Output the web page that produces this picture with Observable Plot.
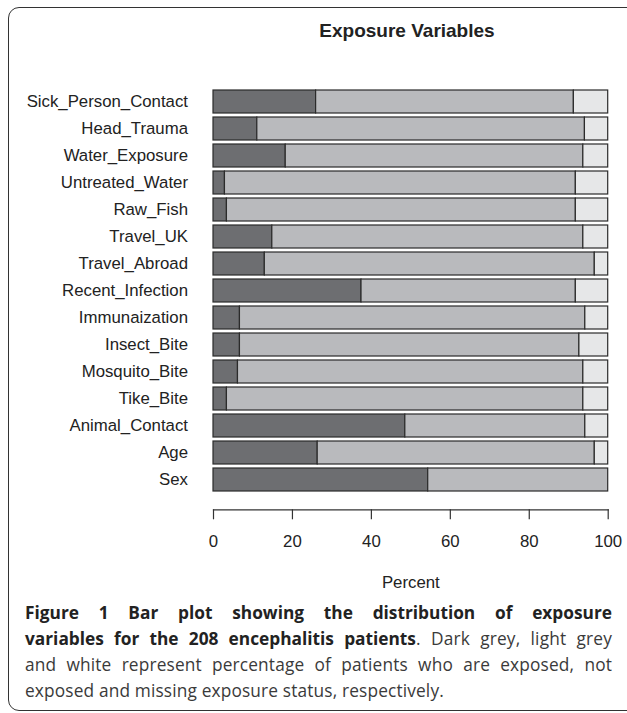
<!DOCTYPE html>
<html>
<head>
<meta charset="utf-8">
<script src="https://cdn.jsdelivr.net/npm/d3@7"></script>
<script src="https://cdn.jsdelivr.net/npm/@observablehq/plot@0.6"></script>
<style>
  html, body { margin: 0; padding: 0; background: #fff; }
  body { width: 627px; height: 713px; position: relative; overflow: hidden; }
  #frame { position: absolute; left: 8px; top: 7px; width: 650px; height: 704px;
           border: 1.4px solid #333; border-radius: 11px; box-sizing: border-box; }
  #title { position: absolute; left: 205px; width: 404px; top: 20px; text-align: center;
           font-family: "Liberation Sans", Arial, sans-serif; font-weight: bold; font-size: 19px;
           line-height: 22px; color: #222; }
  #chart { position: absolute; left: 0; top: 60px; }
  #caption { position: absolute; left: 25px; width: 587px; top: 600px;
             font-family: "Open Sans", "Noto Sans", sans-serif; font-size: 17.3px; line-height: 26px;
             color: #3a3a3a; letter-spacing: 0.15px; }
  #caption .ln { text-align: justify; text-align-last: justify; white-space: nowrap; }
  #caption .ln.last { text-align: left; text-align-last: left; }
  #caption b { color: #222; font-weight: 700; letter-spacing: 0; }
</style>
</head>
<body>
<div id="frame"></div>
<div id="title">Exposure Variables</div>
<div id="chart"></div>
<div id="caption">
  <div class="ln"><b>Figure 1 Bar plot showing the distribution of exposure</b></div>
  <div class="ln"><b>variables for the 208 encephalitis patients</b>. Dark grey, light grey</div>
  <div class="ln">and white represent percentage of patients who are exposed, not</div>
  <div class="ln last">exposed and missing exposure status, respectively.</div>
</div>
<script>
const variables = ["Sick_Person_Contact","Head_Trauma","Water_Exposure","Untreated_Water","Raw_Fish",
  "Travel_UK","Travel_Abroad","Recent_Infection","Immunaization","Insect_Bite","Mosquito_Bite",
  "Tike_Bite","Animal_Contact","Age","Sex"];
const exposed    = [26.0, 11.1, 18.3, 2.9, 3.4, 14.9, 13.0, 37.5, 6.7, 6.7, 6.2, 3.4, 48.6, 26.4, 54.4];
const notExposed = [65.3, 83.0, 75.4, 88.9, 88.4, 78.8, 83.6, 54.3, 87.5, 86.0, 87.5, 90.3, 45.6, 70.2, 45.6];
const missing    = [8.7, 5.9, 6.3, 8.2, 8.2, 6.3, 3.4, 8.2, 5.8, 7.3, 6.3, 6.3, 5.8, 3.4, 0.0];
const statuses = ["Exposed", "Not exposed", "Missing"];
const statusColors = ["#6d6e71", "#b9babd", "#e6e7e8"];
const xTicks = [0, 20, 40, 60, 80, 100];

const rows = [];
variables.forEach((v, i) => {
  [exposed[i], notExposed[i], missing[i]].forEach((p, j) => {
    if (p > 0) rows.push({variable: v, status: statuses[j], percent: p});
  });
});

const chart = Plot.plot({
  width: 627,
  height: 540,
  marginLeft: 213,
  marginRight: 19.3,
  marginTop: 23,
  marginBottom: 90.7,
  style: {fontFamily: "'Liberation Sans', Arial, sans-serif", fontSize: "16.8px", color: "#222", background: "transparent"},
  x: {domain: [0, 100]},
  y: {domain: variables, range: [22.9, 438.4], padding: 0.16},
  color: {domain: statuses, range: statusColors},
  marks: [
    Plot.barX(rows, Plot.stackX({x: "percent", y: "variable", fill: "status", order: statuses,
      stroke: "#2b2b2b", strokeWidth: 1.2})),
    Plot.frame({anchor: "bottom", stroke: "#333", strokeWidth: 1.2}),
    Plot.axisX({anchor: "bottom", ticks: xTicks, tickSize: 10, tickPadding: 15, stroke: "#333",
      strokeWidth: 1.2, label: "Percent", labelAnchor: "center", labelArrow: "none", labelOffset: 78}),
    Plot.axisY({anchor: "left", tickSize: 0, tickPadding: 25.5, label: null})
  ]
});
document.getElementById("chart").appendChild(chart);
</script>
</body>
</html>
